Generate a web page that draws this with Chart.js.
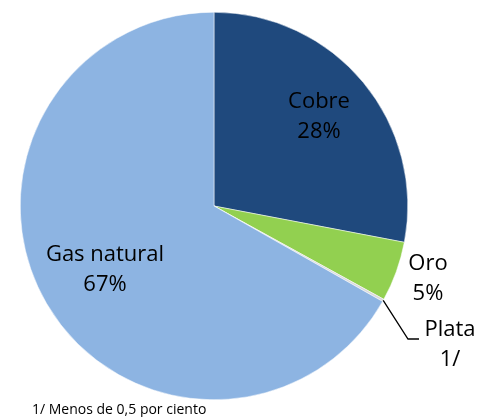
<!DOCTYPE html>
<html>
<head>
<meta charset="utf-8">
<script src="https://cdn.jsdelivr.net/npm/chart.js@4.4.0/dist/chart.umd.min.js"></script>
<style>
  html, body { margin: 0; padding: 0; background: #fff; }
  #wrap { width: 477px; height: 417px; position: relative; }
</style>
</head>
<body>
<div id="wrap"><canvas id="pieChart" width="477" height="417"></canvas></div>
<script>
// DATA
const categories = ['Cobre', 'Oro', 'Plata', 'Gas natural'];
const shares = [28, 5, 0.2, 66.8];
const shareLabels = ['28%', '5%', '1/', '67%'];
const colors = ['#1F497D', '#92D050', '#D9D9D9', '#8DB4E2'];
const footnote = '1/ Menos de 0,5 por ciento';

const FONT = '"Open Sans", "Noto Sans", sans-serif';

// labels placed by hand, like in the original sheet
const labelPos = [
  { x: 319, y: 102 },  // Cobre
  { x: 428, y: 264 },  // Oro
  { x: 450, y: 330 },  // Plata
  { x: 105, y: 255 }   // Gas natural
];

const sliceLabels = {
  id: 'sliceLabels',
  afterDatasetsDraw(chart) {
    const c = chart.ctx;
    const arcs = chart.getDatasetMeta(0).data;
    c.save();
    // leader line for Plata
    const a = arcs[2];
    const mid = (a.startAngle + a.endAngle) / 2;
    const px = a.x + Math.cos(mid) * a.outerRadius;
    const py = a.y + Math.sin(mid) * a.outerRadius;
    c.strokeStyle = '#000';
    c.lineWidth = 1.3;
    c.beginPath();
    c.moveTo(px, py);
    c.lineTo(408, 339);
    c.lineTo(419, 339);
    c.stroke();

    c.font = '22px ' + FONT;
    c.textAlign = 'center';
    c.textBaseline = 'middle';
    categories.forEach((name, i) => {
      c.fillStyle = '#000';
      c.fillText(name, labelPos[i].x, labelPos[i].y);
      c.fillText(shareLabels[i], labelPos[i].x, labelPos[i].y + 30);
    });

    c.font = '14px ' + FONT;
    c.textAlign = 'left';
    c.fillText(footnote, 32, 410);
    c.restore();
  }
};

new Chart(document.getElementById('pieChart').getContext('2d'), {
  type: 'pie',
  data: {
    labels: categories,
    datasets: [{
      data: shares,
      backgroundColor: colors,
      borderColor: '#ffffff',
      borderWidth: 0.5
    }]
  },
  options: {
    responsive: false,
    animation: false,
    layout: { padding: { left: 20, top: 12, right: 69, bottom: 17 } },
    plugins: {
      legend: { display: false },
      tooltip: { enabled: false }
    }
  },
  plugins: [sliceLabels]
});
</script>
</body>
</html>
